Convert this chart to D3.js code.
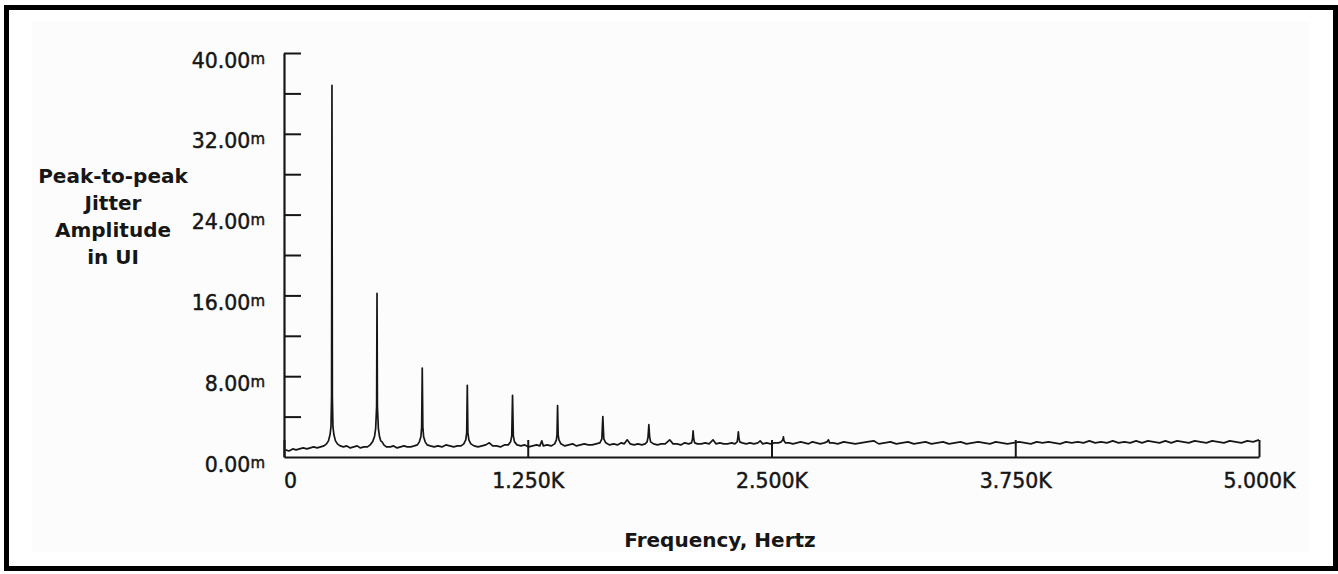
<!DOCTYPE html>
<html>
<head>
<meta charset="utf-8">
<script src="https://cdn.jsdelivr.net/npm/d3@7"></script>
<style>
  html, body { margin: 0; padding: 0; background: #fff; }
  svg { display: block; }
</style>
</head>
<body>
<div id="chart"></div>
<script>
// Jitter spectrum, amplitude in milli-UI
const yMajorTicks = [0, 8, 16, 24, 32, 40];
const yMinorTicks = [4, 12, 20, 28, 36];
const xTicks = [0, 1250, 2500, 3750, 5000];
const xTickLabels = ['0', '1.250K', '2.500K', '3.750K', '5.000K'];
const yTitleLines = ['Peak-to-peak', 'Jitter', 'Amplitude', 'in UI'];
const xTitle = 'Frequency, Hertz';

// [frequency Hz, amplitude mUI]
const spectrum = [
  [8,0.7],[25,0.6],[45,0.8],[62,0.7],[80,0.8],[98,0.9],[118,0.8],[135,0.9],[152,1.0],[170,0.9],
  [188,1.0],[205,1.1],[218,1.3],[228,1.6],[236,2.2],[241,3.0],[244,6.0],[246,36.8],[248,6.0],[251,3.0],
  [256,2.2],[264,1.6],[274,1.3],[288,1.1],[305,1.0],[322,1.1],[340,0.9],[358,1.0],[375,1.1],[392,0.9],
  [410,1.0],[428,1.0],[442,1.2],[454,1.5],[464,2.0],[470,2.8],[475,5.0],[477,16.2],[479,5.0],[484,2.8],
  [490,2.0],[496,1.6],[503,1.5],[512,1.2],[525,1.0],[545,1.0],[562,1.1],[580,0.9],[598,1.0],[615,1.1],
  [632,1.0],[650,1.0],[668,1.1],[684,1.2],[694,1.5],[702,2.0],[706,3.0],[709,8.8],[712,3.0],[716,2.0],
  [724,1.5],[734,1.2],[750,1.1],[770,1.0],[790,1.1],[810,1.0],[830,1.2],[850,1.1],[870,1.0],[890,1.1],
  [908,1.1],[922,1.3],[932,1.7],[937,2.4],[940,7.1],[943,2.4],[948,1.7],[958,1.3],[975,1.1],[995,1.0],
  [1015,1.1],[1035,1.2],[1053,1.4],[1070,1.1],[1090,1.1],[1110,1.0],[1130,1.2],[1150,1.2],[1162,1.5],[1168,2.1],
  [1172,6.1],[1176,2.1],[1182,1.5],[1195,1.2],[1215,1.1],[1235,1.2],[1255,1.0],[1275,1.1],[1295,1.2],[1312,1.1],
  [1322,1.6],[1330,1.1],[1350,1.2],[1370,1.1],[1388,1.3],[1397,1.7],[1400,2.2],[1403,5.1],[1406,2.2],[1410,1.7],
  [1420,1.3],[1440,1.1],[1460,1.2],[1480,1.3],[1500,1.1],[1520,1.2],[1540,1.3],[1560,1.2],[1580,1.2],[1600,1.3],
  [1620,1.4],[1630,1.8],[1635,4.0],[1640,1.8],[1650,1.4],[1670,1.2],[1690,1.3],[1710,1.2],[1730,1.4],[1745,1.3],
  [1760,1.7],[1775,1.3],[1795,1.2],[1815,1.3],[1835,1.2],[1852,1.3],[1862,1.5],[1867,2.0],[1871,3.2],[1875,2.0],
  [1880,1.5],[1895,1.3],[1915,1.2],[1935,1.3],[1955,1.3],[1978,1.7],[1995,1.3],[2015,1.3],[2035,1.2],[2055,1.4],
  [2075,1.3],[2090,1.4],[2095,1.8],[2098,2.6],[2101,1.8],[2106,1.4],[2120,1.3],[2140,1.3],[2160,1.4],[2180,1.3],
  [2200,1.7],[2215,1.3],[2235,1.4],[2255,1.3],[2275,1.3],[2295,1.4],[2312,1.3],[2324,1.5],[2327,1.9],[2330,2.5],
  [2333,1.9],[2337,1.5],[2350,1.4],[2370,1.3],[2390,1.4],[2410,1.3],[2430,1.4],[2442,1.6],[2455,1.3],[2475,1.4],
  [2495,1.3],[2515,1.4],[2535,1.4],[2550,1.5],[2558,1.7],[2561,2.0],[2564,1.6],[2572,1.4],[2590,1.4],[2610,1.3],
  [2630,1.4],[2650,1.5],[2670,1.4],[2690,1.3],[2710,1.5],[2730,1.4],[2750,1.3],[2770,1.4],[2785,1.5],[2792,1.7],
  [2798,1.4],[2815,1.4],[2840,1.3],[2870,1.5],[2900,1.4],[2930,1.3],[2960,1.4],[2990,1.5],[3024,1.6],[3050,1.3],
  [3080,1.4],[3110,1.5],[3140,1.3],[3170,1.4],[3200,1.5],[3230,1.3],[3260,1.4],[3290,1.5],[3320,1.3],[3350,1.4],
  [3380,1.5],[3410,1.3],[3440,1.4],[3470,1.5],[3500,1.3],[3530,1.4],[3560,1.5],[3590,1.4],[3620,1.3],[3650,1.5],
  [3680,1.4],[3710,1.3],[3740,1.4],[3770,1.5],[3800,1.4],[3830,1.3],[3860,1.5],[3890,1.4],[3920,1.5],[3950,1.4],
  [3980,1.3],[4010,1.5],[4040,1.4],[4070,1.5],[4100,1.4],[4130,1.6],[4160,1.4],[4190,1.5],[4220,1.4],[4250,1.6],
  [4280,1.4],[4310,1.5],[4340,1.4],[4370,1.6],[4400,1.4],[4430,1.6],[4460,1.5],[4490,1.4],[4520,1.6],[4550,1.4],
  [4580,1.6],[4610,1.5],[4640,1.4],[4670,1.6],[4700,1.5],[4730,1.4],[4760,1.6],[4790,1.5],[4820,1.4],[4850,1.6],
  [4880,1.5],[4910,1.4],[4940,1.6],[4970,1.5],[5000,1.7]
];

const width = 1338;
const height = 574;
const plot = { left: 284, right: 1259, top: 53, bottom: 457 };
const font = 'DejaVu Sans, sans-serif';
const ink = '#161616';

const svg = d3.select('#chart')
  .append('svg')
  .attr('width', width)
  .attr('height', height)
  .style('font-family', font);

svg.append('rect')
  .attr('width', width).attr('height', height)
  .attr('fill', '#fff');

// faint scanned-paper panel + heavy frame
svg.append('rect')
  .attr('x', 32).attr('y', 22)
  .attr('width', 1278).attr('height', 530)
  .attr('fill', '#fcfcfc');

svg.append('rect')
  .attr('x', 6.5).attr('y', 7.5)
  .attr('width', 1329).attr('height', 561)
  .attr('fill', 'none')
  .attr('stroke', '#000')
  .attr('stroke-width', 5);

const x = d3.scaleLinear().domain([0, 5000]).range([plot.left, plot.right]);
const y = d3.scaleLinear().domain([0, 40]).range([plot.bottom, plot.top]);

// Y axis: ticks point into the plot, labels drawn separately (hanging below tick)
const yAxis = svg.append('g')
  .attr('transform', `translate(${plot.left},0)`)
  .call(d3.axisLeft(y)
    .tickValues(yMajorTicks.slice(1).concat(yMinorTicks))
    .tickSizeInner(-17)
    .tickSizeOuter(0)
    .tickFormat(''));

yAxis.select('.domain').attr('stroke', ink).attr('stroke-width', 2.2);
yAxis.selectAll('.tick line').attr('stroke', ink).attr('stroke-width', 2);

const yLabels = svg.append('g')
  .attr('font-size', 20.5)
  .attr('fill', ink)
  .attr('stroke', ink)
  .attr('stroke-width', 0.45)
  .attr('text-anchor', 'end');

yLabels.selectAll('text')
  .data(yMajorTicks)
  .join('text')
  .attr('x', plot.left - 19)
  .attr('y', d => y(d) + 14.5)
  .each(function (d) {
    const t = d3.select(this);
    t.append('tspan').text(d.toFixed(2));
    t.append('tspan')
      .attr('font-size', 15)
      .attr('dy', -4)
      .text('m');
  });

// X axis
const xAxis = svg.append('g')
  .attr('transform', `translate(0,${plot.bottom})`)
  .call(d3.axisBottom(x)
    .tickValues(xTicks)
    .tickSizeInner(-17)
    .tickSizeOuter(0)
    .tickPadding(16)
    .tickFormat((d, i) => xTickLabels[i]));

xAxis.select('.domain').attr('stroke', ink).attr('stroke-width', 2.2);
xAxis.selectAll('.tick line').attr('stroke', ink).attr('stroke-width', 2);
xAxis.selectAll('.tick text')
  .attr('font-family', font)
  .attr('font-size', 20.5)
  .attr('fill', ink)
  .attr('stroke', ink)
  .attr('stroke-width', 0.45)
  .attr('dx', d => d === 0 ? 6 : 0);

// spectrum trace
const line = d3.line()
  .x(d => x(d[0]))
  .y(d => y(d[1]));

svg.append('path')
  .datum(spectrum)
  .attr('fill', 'none')
  .attr('stroke', ink)
  .attr('stroke-width', 1.7)
  .attr('stroke-linejoin', 'round')
  .attr('d', line);

// axis titles
svg.append('text')
  .attr('x', 113)
  .attr('text-anchor', 'middle')
  .attr('font-size', 20)
  .attr('font-weight', 'bold')
  .attr('fill', ink)
  .selectAll('tspan')
  .data(yTitleLines)
  .join('tspan')
  .attr('x', 113)
  .attr('y', (d, i) => 183 + i * 27)
  .text(d => d);

svg.append('text')
  .attr('x', 720)
  .attr('y', 547)
  .attr('text-anchor', 'middle')
  .attr('font-size', 20)
  .attr('font-weight', 'bold')
  .attr('fill', ink)
  .text(xTitle);
</script>
</body>
</html>
